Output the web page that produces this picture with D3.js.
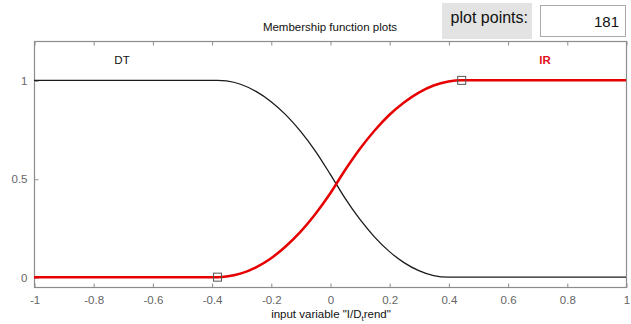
<!DOCTYPE html>
<html>
<head>
<meta charset="utf-8">
<script src="https://cdn.jsdelivr.net/npm/d3@7"></script>
<style>
  html, body { margin: 0; padding: 0; background: #ffffff; }
  svg { display: block; font-family: "Liberation Sans", Arial, sans-serif; }
</style>
</head>
<body>
<svg id="chart" width="631" height="324"></svg>
<script>
// Input universe and sampled membership degrees
const xValues = [-1, -0.8, -0.6, -0.45, -0.38, -0.35, -0.3, -0.25, -0.2, -0.15, -0.1, -0.05, 0, 0.05, 0.1, 0.15, 0.2, 0.25, 0.3, 0.35, 0.4, 0.445, 0.6, 0.8, 1];
const dtValues = [1, 1, 1, 1, 1, 0.997, 0.979, 0.944, 0.893, 0.826, 0.742, 0.642, 0.525, 0.403, 0.296, 0.205, 0.131, 0.074, 0.033, 0.008, 0, 0, 0, 0, 0];
const irValues = [0, 0, 0, 0, 0, 0.003, 0.019, 0.050, 0.095, 0.156, 0.230, 0.320, 0.424, 0.542, 0.650, 0.744, 0.824, 0.888, 0.938, 0.974, 0.994, 1, 1, 1, 1];
const irMarkers = [[-0.38, 0], [0.445, 1]];
const xTicks = [-1, -0.8, -0.6, -0.4, -0.2, 0, 0.2, 0.4, 0.6, 0.8, 1];
const yTicks = [0, 0.5, 1];
const mfNames = ["DT", "IR"];
const plotPoints = "181";

const svg = d3.select("#chart");
const plotLeft = 34, plotRight = 626, plotTop = 41, plotBottom = 287;

const x = d3.scaleLinear().domain([-1, 1]).range([plotLeft, plotRight]);
const y = d3.scaleLinear().domain([-0.05, 1.2]).range([plotBottom, plotTop]);

// Header: title and plot-points control
svg.append("text")
  .attr("x", 330).attr("y", 31)
  .attr("text-anchor", "middle")
  .attr("font-size", 11.5).attr("fill", "#111")
  .text("Membership function plots");

svg.append("rect")
  .attr("x", 442).attr("y", 3).attr("width", 90).attr("height", 36)
  .attr("fill", "#e3e3e3");
svg.append("text")
  .attr("x", 528).attr("y", 23)
  .attr("text-anchor", "end")
  .attr("font-size", 16).attr("fill", "#111")
  .text("plot points:");

svg.append("rect")
  .attr("x", 540.5).attr("y", 5.5).attr("width", 85).attr("height", 31)
  .attr("fill", "#fff").attr("stroke", "#aaa").attr("stroke-width", 1);
svg.append("text")
  .attr("x", 619).attr("y", 27)
  .attr("text-anchor", "end")
  .attr("font-size", 15).attr("fill", "#111")
  .text(plotPoints);

// Axes frame
const axisColor = "#8c8c8c";
svg.append("rect")
  .attr("x", plotLeft + 0.5).attr("y", plotTop + 0.5)
  .attr("width", plotRight - plotLeft).attr("height", plotBottom - plotTop)
  .attr("fill", "#fff").attr("stroke", axisColor).attr("stroke-width", 1.2);

// Bottom axis with inward ticks
const xAxis = svg.append("g")
  .attr("transform", `translate(0.5,${plotBottom + 0.5})`)
  .call(d3.axisBottom(x).tickValues(xTicks).tickSize(-4).tickPadding(8));
xAxis.select(".domain").remove();
xAxis.selectAll("line").attr("stroke", axisColor);
xAxis.selectAll("text").attr("fill", "#666").attr("font-size", 11.5)
  .attr("font-family", "Liberation Sans, Arial, sans-serif")
  .text(d => String(d));

// Top axis ticks (no labels)
const xTop = svg.append("g")
  .attr("transform", `translate(0.5,${plotTop + 0.5})`)
  .call(d3.axisTop(x).tickValues(xTicks).tickSize(-4).tickFormat(""));
xTop.select(".domain").remove();
xTop.selectAll("line").attr("stroke", axisColor);

// Left axis
const yAxis = svg.append("g")
  .attr("transform", `translate(${plotLeft + 0.5},0.5)`)
  .call(d3.axisLeft(y).tickValues(yTicks).tickSize(-4).tickPadding(7));
yAxis.select(".domain").remove();
yAxis.selectAll("line").attr("stroke", axisColor);
yAxis.selectAll("text").attr("fill", "#666").attr("font-size", 11.5)
  .attr("font-family", "Liberation Sans, Arial, sans-serif")
  .text(d => String(d));

// X axis title with subscript
const xLabel = svg.append("text")
  .attr("x", 331).attr("y", 318)
  .attr("text-anchor", "middle")
  .attr("font-size", 11.5).attr("fill", "#111");
xLabel.append("tspan").text("input variable \"I/D");
xLabel.append("tspan").attr("font-size", 8).attr("dy", 3).text("t");
xLabel.append("tspan").attr("dy", -3).text("rend\"");

// Membership curves
const line = d3.line()
  .x(d => x(d[0]))
  .y(d => y(d[1]))
  .curve(d3.curveMonotoneX);

const dtData = xValues.map((v, i) => [v, dtValues[i]]);
const irData = xValues.map((v, i) => [v, irValues[i]]);

svg.append("path")
  .datum(dtData)
  .attr("d", line)
  .attr("fill", "none")
  .attr("stroke", "#1a1a1a")
  .attr("stroke-width", 1.3);

svg.append("path")
  .datum(irData)
  .attr("d", line)
  .attr("fill", "none")
  .attr("stroke", "#e60000")
  .attr("stroke-width", 2.5);

// Parameter markers on the selected function
svg.selectAll("rect.marker")
  .data(irMarkers)
  .enter().append("rect")
  .attr("class", "marker")
  .attr("x", d => x(d[0]) - 4)
  .attr("y", d => y(d[1]) - 4)
  .attr("width", 8).attr("height", 8)
  .attr("fill", "none")
  .attr("stroke", "#555")
  .attr("stroke-width", 1);

// Function names
svg.append("text")
  .attr("x", 122).attr("y", 64)
  .attr("text-anchor", "middle")
  .attr("font-size", 11.5).attr("fill", "#111")
  .text(mfNames[0]);

svg.append("text")
  .attr("x", 545).attr("y", 64)
  .attr("text-anchor", "middle")
  .attr("font-size", 11.5).attr("font-weight", "bold").attr("fill", "#e0101a")
  .text(mfNames[1]);
</script>
</body>
</html>
